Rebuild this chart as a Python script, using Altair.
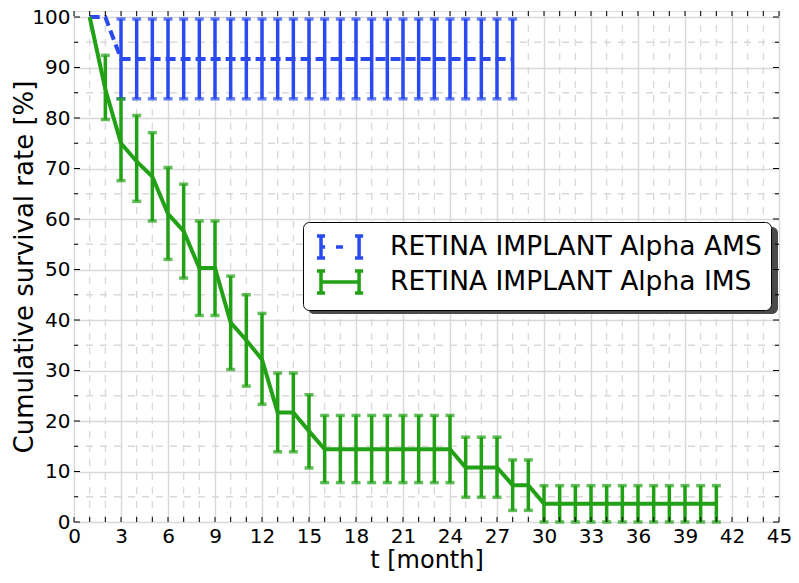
import altair as alt
import pandas as pd

# ---------------- data ----------------
AMS = "RETINA IMPLANT Alpha AMS"
IMS = "RETINA IMPLANT Alpha IMS"

ams_t = [1, 2, 3, 4, 5, 6, 7, 8, 9, 10, 11, 12, 13, 14, 15, 16, 17, 18, 19, 20,
         21, 22, 23, 24, 25, 26, 27, 28]
ams_value = [100, 100, 91.7, 91.7, 91.7, 91.7, 91.7, 91.7, 91.7, 91.7, 91.7, 91.7,
             91.7, 91.7, 91.7, 91.7, 91.7, 91.7, 91.7, 91.7, 91.7, 91.7, 91.7, 91.7,
             91.7, 91.7, 91.7, 91.7]
ams_lower = [None, None, 83.8, 83.8, 83.8, 83.8, 83.8, 83.8, 83.8, 83.8, 83.8, 83.8,
             83.8, 83.8, 83.8, 83.8, 83.8, 83.8, 83.8, 83.8, 83.8, 83.8, 83.8, 83.8,
             83.8, 83.8, 83.8, 83.8]
ams_upper = [None, None, 99.6, 99.6, 99.6, 99.6, 99.6, 99.6, 99.6, 99.6, 99.6, 99.6,
             99.6, 99.6, 99.6, 99.6, 99.6, 99.6, 99.6, 99.6, 99.6, 99.6, 99.6, 99.6,
             99.6, 99.6, 99.6, 99.6]

ims_t = [1, 2, 3, 4, 5, 6, 7, 8, 9, 10, 11, 12, 13, 14, 15, 16, 17, 18, 19, 20, 21,
         22, 23, 24, 25, 26, 27, 28, 29, 30, 31, 32, 33, 34, 35, 36, 37, 38, 39, 40, 41]
ims_value = [100, 85.7, 75.0, 71.4, 68.4, 61.0, 57.6, 50.3, 50.3, 39.5, 36.0, 32.2,
             21.7, 21.7, 18.0, 14.4, 14.4, 14.4, 14.4, 14.4, 14.4, 14.4, 14.4, 14.4,
             10.8, 10.8, 10.8, 7.3, 7.3, 3.6, 3.6, 3.6, 3.6, 3.6, 3.6, 3.6, 3.6, 3.6,
             3.6, 3.6, 3.6]
ims_lower = [None, 79.7, 67.6, 63.5, 59.6, 52.0, 48.3, 40.9, 40.9, 30.2, 26.9, 23.3,
             13.9, 13.9, 10.7, 7.8, 7.8, 7.8, 7.8, 7.8, 7.8, 7.8, 7.8, 7.8,
             4.9, 4.9, 4.9, 2.3, 2.3, 0, 0, 0, 0, 0, 0, 0, 0, 0, 0, 0, 0]
ims_upper = [None, 92.4, 83.8, 80.5, 77.1, 70.2, 66.9, 59.6, 59.6, 48.7, 45.0, 41.3,
             29.5, 29.5, 25.2, 21.1, 21.1, 21.1, 21.1, 21.1, 21.1, 21.1, 21.1, 21.1,
             16.8, 16.8, 16.8, 12.3, 12.3, 7.2, 7.2, 7.2, 7.2, 7.2, 7.2, 7.2, 7.2, 7.2,
             7.2, 7.2, 7.2]

x_major = [0, 3, 6, 9, 12, 15, 18, 21, 24, 27, 30, 33, 36, 39, 42, 45]
x_minor = [1, 2, 4, 5, 7, 8, 10, 11, 13, 14, 16, 17, 19, 20, 22, 23, 25, 26, 28, 29,
           31, 32, 34, 35, 37, 38, 40, 41, 43, 44]
y_major = [0, 10, 20, 30, 40, 50, 60, 70, 80, 90, 100]
y_minor = [5, 15, 25, 35, 45, 55, 65, 75, 85, 95]

# ---------------- styling ----------------
BLUE = "#2a4af0"
GREEN = "#22a116"
GRID = "#d9d9d9"
FONT = "DejaVu Sans"
LEFT, TOP = 66, 3
W, H = 705, 511

ams_df = pd.DataFrame({"t": ams_t, "value": ams_value, "lower": ams_lower,
                       "upper": ams_upper, "series": AMS})
ims_df = pd.DataFrame({"t": ims_t, "value": ims_value, "lower": ims_lower,
                       "upper": ims_upper, "series": IMS})
all_df = pd.concat([ams_df, ims_df], ignore_index=True)
ams_err = ams_df.dropna(subset=["lower"])
ims_err = ims_df.dropna(subset=["lower"])

xscale = alt.Scale(domain=[0, 45], nice=False, zero=False)
yscale = alt.Scale(domain=[0, 101.19], nice=False, zero=False)

xaxis = alt.Axis(values=x_major, grid=True, gridColor=GRID, gridWidth=1.5,
                 ticks=False, domain=False, labelFont=FONT, labelFontSize=20,
                 labelColor="black", labelPadding=4, labelFlush=False,
                 labelOverlap=False, title="t [month]", titleFont=FONT,
                 titleFontSize=24, titleFontWeight="normal", titleColor="black",
                 titleBaseline="alphabetic", titleY=45)
yaxis = alt.Axis(values=y_major, grid=True, gridColor=GRID, gridWidth=1.5,
                 ticks=False, domain=False, labelFont=FONT, labelFontSize=20,
                 labelColor="black", labelPadding=4, labelFlush=False,
                 labelOverlap=False, title="Cumulative survival rate [%]",
                 titleFont=FONT, titleFontSize=26, titleFontWeight="normal",
                 titleColor="black", titleAngle=270, titleAlign="center",
                 titleBaseline="middle", titleX=-50, titleY=H / 2)


def X(field="t"):
    return alt.X(f"{field}:Q", scale=xscale, axis=xaxis)


def Y(field="value"):
    return alt.Y(f"{field}:Q", scale=yscale, axis=yaxis)


# minor dashed grid
minor_v = alt.Chart(pd.DataFrame({"t": x_minor})).mark_rule(
    color=GRID, strokeWidth=1.3, strokeDash=[7, 7]).encode(x=X())
minor_h = alt.Chart(pd.DataFrame({"value": y_minor})).mark_rule(
    color=GRID, strokeWidth=1.3, strokeDash=[7, 7]).encode(y=Y())


def errorbars(df, color):
    base = alt.Chart(df)
    bars = base.mark_rule(color=color, strokeWidth=3.5).encode(
        x=X(), y=Y("lower"), y2="upper:Q")
    cap_lo = base.mark_tick(color=color, orient="horizontal", size=9,
                            thickness=3.5).encode(x=X(), y=Y("lower"))
    cap_hi = base.mark_tick(color=color, orient="horizontal", size=9,
                            thickness=3.5).encode(x=X(), y=Y("upper"))
    return bars + cap_lo + cap_hi


ams_line = alt.Chart(ams_df).mark_line(color=BLUE, strokeWidth=4,
                                       strokeDash=[10, 5]).encode(x=X(), y=Y())
ims_line = alt.Chart(ims_df).mark_line(color=GREEN, strokeWidth=4).encode(
    x=X(), y=Y())

# legend (driven by an invisible point layer carrying the legend symbols)
# symbol unit = 14 px; path shifted right so the glyph sits where the reference has it
path_ams = ("M-0.50,-0.79L-0.50,0.79M-0.79,-0.79L-0.21,-0.79M-0.79,0.79L-0.21,0.79"
            "M-0.50,0L-0.21,0M0.57,0L1.07,0"
            "M2.22,-0.79L2.22,0.79M1.93,-0.79L2.51,-0.79M1.93,0.79L2.51,0.79")
path_ims = ("M-0.50,-0.79L-0.50,0.79M-0.79,-0.79L-0.21,-0.79M-0.79,0.79L-0.21,0.79"
            "M-0.50,0L2.22,0"
            "M2.22,-0.79L2.22,0.79M1.93,-0.79L2.51,-0.79M1.93,0.79L2.51,0.79")

LEG_X, LEG_Y = 303 - 8 - LEFT, 222 - 8 - TOP
legend = alt.Legend(orient="none", legendX=LEG_X, legendY=LEG_Y, title=None,
                    fillColor="white", strokeColor="black", cornerRadius=6,
                    padding=9, labelFont=FONT, labelFontSize=26.5,
                    labelColor="black", labelOffset=46, symbolSize=784,
                    symbolStrokeWidth=3.5, symbolOpacity=1, rowPadding=-3,
                    labelLimit=0)
legend_pts = alt.Chart(all_df).mark_point(opacity=0, filled=False).encode(
    x=X(), y=Y(),
    color=alt.Color("series:N", scale=alt.Scale(domain=[AMS, IMS],
                                                range=[BLUE, GREEN]),
                    legend=legend),
    shape=alt.Shape("series:N", scale=alt.Scale(domain=[AMS, IMS],
                                                range=[path_ams, path_ims]),
                    legend=legend),
)

# legend shadow
shadow = alt.Chart(pd.DataFrame({"a": [0]})).mark_rect(
    color="#4a4a4a", cornerRadius=6).encode(
    x=alt.value(LEG_X + 5), x2=alt.value(LEG_X + 5 + 470),
    y=alt.value(LEG_Y + 5), y2=alt.value(LEG_Y + 5 + 87))

# inward tick marks on all four sides
x_ticks_df = pd.DataFrame({"t": x_major + x_minor})
xt_bottom = alt.Chart(x_ticks_df).mark_rule(color="black", strokeWidth=1).encode(
    x=X(), y=alt.value(H), y2=alt.value(H - 5))
xt_top = alt.Chart(x_ticks_df).mark_rule(color="black", strokeWidth=1).encode(
    x=X(), y=alt.value(0), y2=alt.value(5))
yt_left_major = alt.Chart(pd.DataFrame({"value": y_major})).mark_rule(
    color="black", strokeWidth=1).encode(y=Y(), x=alt.value(0), x2=alt.value(6))
yt_left_minor = alt.Chart(pd.DataFrame({"value": y_minor})).mark_rule(
    color="black", strokeWidth=1).encode(y=Y(), x=alt.value(0), x2=alt.value(4))
yt_right_major = alt.Chart(pd.DataFrame({"value": y_major})).mark_rule(
    color="black", strokeWidth=1).encode(y=Y(), x=alt.value(W), x2=alt.value(W - 6))
yt_right_minor = alt.Chart(pd.DataFrame({"value": y_minor})).mark_rule(
    color="black", strokeWidth=1).encode(y=Y(), x=alt.value(W), x2=alt.value(W - 4))

chart = alt.layer(
    minor_v, minor_h, shadow,
    errorbars(ams_err, BLUE), ams_line,
    errorbars(ims_err, GREEN), ims_line,
    legend_pts,
    xt_bottom, xt_top, yt_left_major, yt_left_minor, yt_right_major, yt_right_minor,
).properties(
    width=W, height=H,
    autosize=alt.AutoSizeParams(type="none"),
    padding={"left": LEFT, "top": TOP, "right": 12, "bottom": 49},
).configure_view(
    stroke="black", strokeWidth=1.5
).configure(background="white")

chart.save("out.html", embed_options={"renderer": "svg", "actions": False})
